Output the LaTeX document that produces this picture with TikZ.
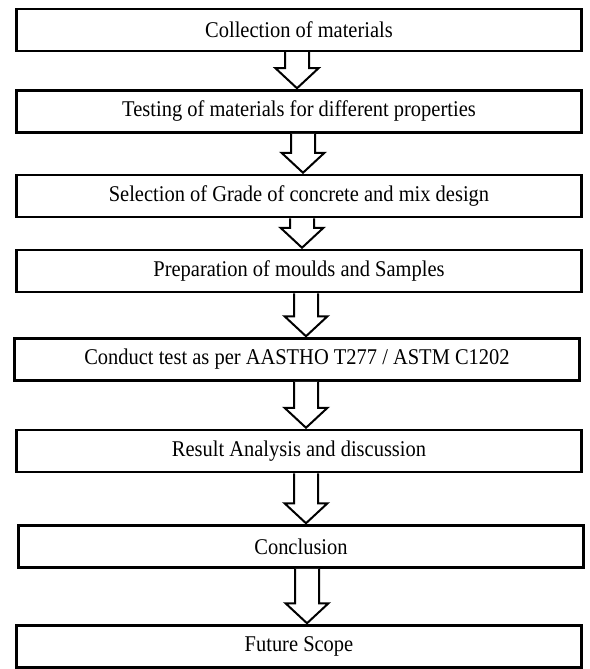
\documentclass[tikz,border=0pt]{standalone}
\usepackage{fontspec}
\setmainfont[FakeStretch=0.91]{Liberation Serif}
\usetikzlibrary{calc}
\begin{document}
\begin{tikzpicture}[x=1pt, y=-1pt, line join=miter, font=\fontsize{22.5}{27}\selectfont]
				\tikzset{stepbox/.style={draw, line width=2.5pt, minimum width=565pt, minimum height=42pt, inner sep=0pt},
					flowarrow/.style={draw, line width=2pt, fill=white}}
				\def\sw{12pt} \def\hw{21.5pt} \def\hl{21pt}
				\useasboundingbox (0,0) rectangle (589,669);
				\node[stepbox] (b1) at (299,30) {Collection of materials};
				\node[stepbox] (b2) at (299,111.5) {Testing of materials for different properties};
				\node[stepbox] (b3) at (299,196) {Selection of Grade of concrete and mix design};
				\node[stepbox] (b4) at (299,271) {Preparation of moulds and Samples};
				\node[stepbox] (b5) at (297,359.5) {Conduct test as per AASTHO T277 / ASTM C1202};
				\node[stepbox] (b6) at (299,451) {Result Analysis and discussion};
				\node[stepbox] (b7) at (301,546.5) {Conclusion};
				\node[stepbox] (b8) at (299,646.5) {Future Scope};
				\foreach \a/\b/\dx in {b1/b2/-2, b2/b3/4, b3/b4/3, b4/b5/7, b5/b6/9, b6/b7/7, b7/b8/6}
					\draw[flowarrow] let \p1=($(\a.south)+(\dx,0)$), \p2=(\b.north) in
						(\x1-\sw,\y1) -- (\x1-\sw,\y2+\hl) -- (\x1-\hw,\y2+\hl) -- (\x1,\y2+1pt)
						-- (\x1+\hw,\y2+\hl) -- (\x1+\sw,\y2+\hl) -- (\x1+\sw,\y1);
			\end{tikzpicture}
\end{document}
